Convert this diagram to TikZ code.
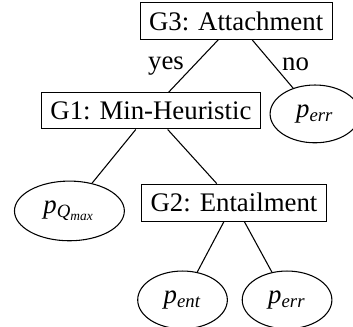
\documentclass[tikz,border=0pt]{standalone}
\usepackage{fontspec}
\setmainfont{Liberation Serif}
\usetikzlibrary{shapes.geometric,positioning}
\tikzset{goal/.style={draw,rectangle},prob/.style={draw,ellipse,inner xsep=4.8pt,inner ysep=4.2pt}}

\begin{document}
\begin{tikzpicture}[on grid]
\useasboundingbox (0,0) rectangle (131.7pt,-122pt);
\node[goal] (g3) at (88.1pt,-7.8pt) {G3: Attachment};
\node[goal] (g1) [below left=33.6pt and 31.8pt of g3] {G1: Min-Heuristic};
\node[prob] (perr1) [below right=34.7pt and 29.4pt of g3] {$\mathit{p}_{\mathit{err}}$};
\node[prob] (pqmax) [below left=37.3pt and 30.4pt of g1] {$\mathit{p}_{\mathit{Q}_{\mathit{max}}}$};
\node[goal] (g2) [below right=34.2pt and 31pt of g1] {G2: Entailment};
\node[prob] (pent) [below left=36.3pt and 19.2pt of g2] {$\mathit{p}_{\mathit{ent}}$};
\node[prob] (perr2) [below right=36.3pt and 19.8pt of g2] {$\mathit{p}_{\mathit{err}}$};
\path (g3) edge node[left] {yes} (g1)
           edge node[right] {no} (perr1)
      (g1) edge (pqmax)
           edge (g2)
      (g2) edge (pent)
           edge (perr2);
\end{tikzpicture}
\end{document}
